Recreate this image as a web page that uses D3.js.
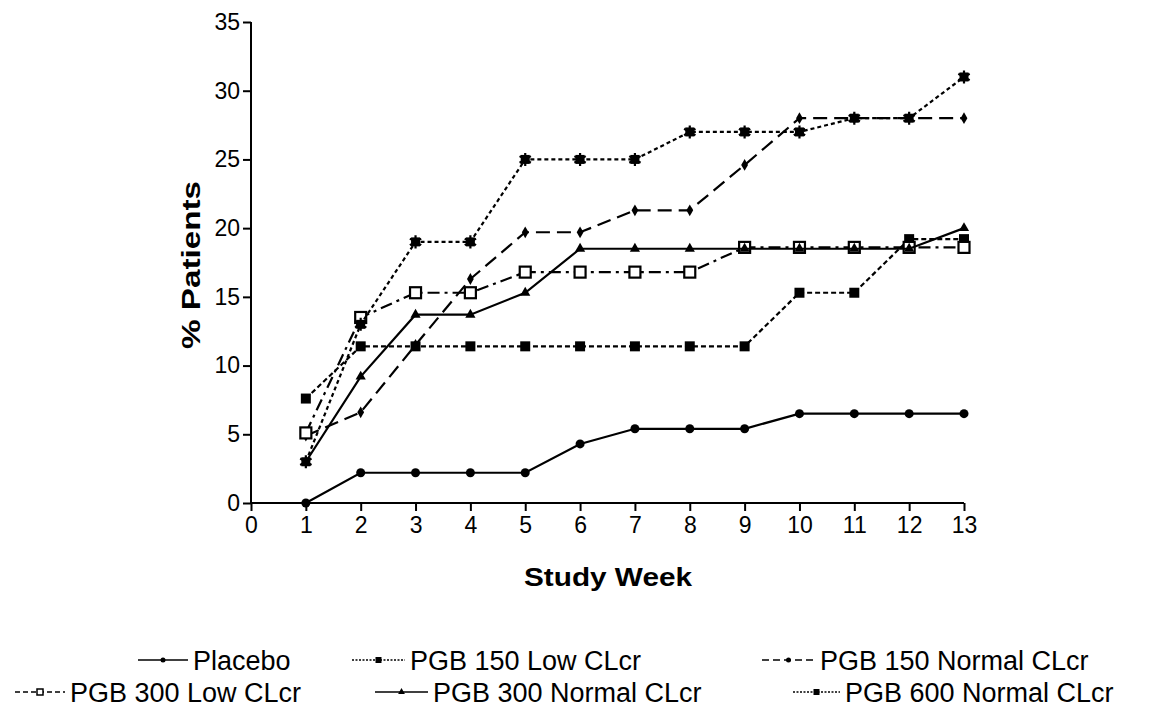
<!DOCTYPE html>
<html>
<head>
<meta charset="utf-8">
<script src="https://cdn.jsdelivr.net/npm/d3@7"></script>
<style>
  html, body { margin: 0; padding: 0; background: #fff; }
  svg { display: block; }
  text { font-family: Arial, "Liberation Sans", Helvetica, sans-serif; fill: #000; }
</style>
</head>
<body>
<svg id="chart" width="1150" height="707"></svg>
<script>
// ---- data ----
const weeks = [1, 2, 3, 4, 5, 6, 7, 8, 9, 10, 11, 12, 13];
const xTicks = [0, 1, 2, 3, 4, 5, 6, 7, 8, 9, 10, 11, 12, 13];
const yTicks = [0, 5, 10, 15, 20, 25, 30, 35];

const placebo      = [0.0, 2.2, 2.2, 2.2, 2.2, 4.3, 5.4, 5.4, 5.4, 6.5, 6.5, 6.5, 6.5];
const pgb150Low    = [7.6, 11.4, 11.4, 11.4, 11.4, 11.4, 11.4, 11.4, 11.4, 15.3, 15.3, 19.2, 19.2];
const pgb150Normal = [4.9, 6.6, 11.5, 16.3, 19.7, 19.7, 21.3, 21.3, 24.6, 28.0, 28.0, 28.0, 28.0];
const pgb300Low    = [5.1, 13.5, 15.3, 15.3, 16.8, 16.8, 16.8, 16.8, 18.6, 18.6, 18.6, 18.6, 18.6];
const pgb300Normal = [3.0, 9.2, 13.7, 13.7, 15.3, 18.5, 18.5, 18.5, 18.5, 18.5, 18.5, 18.5, 20.0];
const pgb600Normal = [3.0, 13.0, 19.0, 19.0, 25.0, 25.0, 25.0, 27.0, 27.0, 27.0, 28.0, 28.0, 31.0];

const seriesNames = ["Placebo", "PGB 150 Low CLcr", "PGB 150 Normal CLcr",
                     "PGB 300 Low CLcr", "PGB 300 Normal CLcr", "PGB 600 Normal CLcr"];
const seriesValues = [placebo, pgb150Low, pgb150Normal, pgb300Low, pgb300Normal, pgb600Normal];

// ---- styles ----
const styles = [
  { dash: null,          legendDash: null,    marker: "circle" },
  { dash: "5,3",         legendDash: "2,1.5", marker: "fsquare" },
  { dash: "14,7",        legendDash: "7,4",   marker: "diamond" },
  { dash: "12,5,3,5",    legendDash: "5,3",   marker: "osquare" },
  { dash: null,          legendDash: null,    marker: "triangle" },
  { dash: "4,3",         legendDash: "2,1.5", marker: "star" }
];
const legendPos = [
  { x1: 138, x2: 188, y: 660 },
  { x1: 352, x2: 405, y: 660 },
  { x1: 762, x2: 815, y: 660 },
  { x1: 15,  x2: 65,  y: 692 },
  { x1: 375, x2: 428, y: 692 },
  { x1: 793, x2: 840, y: 692 }
];

const svg = d3.select("#chart");
const x = d3.scaleLinear().domain([0, 13]).range([251, 964]);
const y = d3.scaleLinear().domain([0, 35]).range([503, 22]);

// axes
const xAxis = d3.axisBottom(x).tickValues(xTicks).tickSize(8).tickPadding(6).tickFormat(d3.format("d"));
const yAxis = d3.axisLeft(y).tickValues(yTicks).tickSize(8).tickPadding(3).tickFormat(d3.format("d"));

const gx = svg.append("g").attr("transform", `translate(0,${y(0)})`).call(xAxis);
const gy = svg.append("g").attr("transform", `translate(${x(0)},0)`).call(yAxis);
[gx, gy].forEach(g => {
  g.select(".domain").attr("stroke", "#000").attr("stroke-width", 2);
  g.selectAll(".tick line").attr("stroke", "#000").attr("stroke-width", 2);
  g.selectAll(".tick text").attr("font-size", 23).attr("fill", "#000")
    .attr("font-family", "Arial, 'Liberation Sans', sans-serif");
});
gx.select(".domain").attr("d", `M${x(0)},0H${x(13)}`);
gy.select(".domain").attr("d", `M0,${y(0)}V${y(35)}`);

// axis titles
svg.append("text").attr("x", 608).attr("y", 586).attr("text-anchor", "middle")
  .attr("font-size", 26).attr("font-weight", "bold").attr("textLength", 168)
  .attr("lengthAdjust", "spacingAndGlyphs").text("Study Week");
svg.append("text").attr("transform", "translate(200,265) rotate(-90)").attr("text-anchor", "middle")
  .attr("font-size", 26).attr("font-weight", "bold").attr("textLength", 168)
  .attr("lengthAdjust", "spacingAndGlyphs").text("% Patients");

// marker drawing
function drawMarker(g, type, cx, cy) {
  if (type === "circle") {
    g.append("circle").attr("cx", cx).attr("cy", cy).attr("r", 4.5).attr("fill", "#000");
  } else if (type === "fsquare") {
    g.append("rect").attr("x", cx - 5).attr("y", cy - 5).attr("width", 10).attr("height", 10).attr("fill", "#000");
  } else if (type === "diamond") {
    g.append("path").attr("transform", `translate(${cx},${cy})`)
      .attr("d", d3.symbol().type(d3.symbolDiamond).size(40)()).attr("fill", "#000");
  } else if (type === "osquare") {
    g.append("rect").attr("x", cx - 5.5).attr("y", cy - 5.5).attr("width", 11).attr("height", 11)
      .attr("fill", "#fff").attr("stroke", "#000").attr("stroke-width", 2.2);
  } else if (type === "triangle") {
    g.append("path").attr("transform", `translate(${cx},${cy})`)
      .attr("d", d3.symbol().type(d3.symbolTriangle).size(45)()).attr("fill", "#000");
  } else if (type === "star") {
    g.append("rect").attr("x", cx - 4.5).attr("y", cy - 4.5).attr("width", 9).attr("height", 9).attr("fill", "#000");
    g.append("path").attr("transform", `translate(${cx},${cy})`)
      .attr("d", d3.symbol().type(d3.symbolAsterisk).size(120)())
      .attr("fill", "none").attr("stroke", "#000").attr("stroke-width", 2.2);
  }
}

// series
const line = d3.line().x((d, i) => x(weeks[i])).y(d => y(d));
seriesValues.forEach((vals, si) => {
  const st = styles[si];
  const g = svg.append("g");
  g.append("path").datum(vals).attr("d", line).attr("fill", "none")
    .attr("stroke", "#000").attr("stroke-width", 2.2)
    .attr("stroke-dasharray", st.dash);
  vals.forEach((v, i) => drawMarker(g, st.marker, x(weeks[i]), y(v)));
});

// legend
seriesNames.forEach((name, si) => {
  const st = styles[si];
  const p = legendPos[si];
  const g = svg.append("g");
  g.append("line").attr("x1", p.x1).attr("x2", p.x2).attr("y1", p.y).attr("y2", p.y)
    .attr("stroke", "#000").attr("stroke-width", 1.6).attr("stroke-dasharray", st.legendDash);
  const cx = (p.x1 + p.x2) / 2;
  if (st.marker === "osquare") {
    g.append("rect").attr("x", cx - 3).attr("y", p.y - 3).attr("width", 6).attr("height", 6)
      .attr("fill", "#fff").attr("stroke", "#000").attr("stroke-width", 1.5);
  } else if (st.marker === "fsquare" || st.marker === "star") {
    g.append("rect").attr("x", cx - 3).attr("y", p.y - 3).attr("width", 6).attr("height", 6).attr("fill", "#000");
  } else if (st.marker === "triangle") {
    g.append("path").attr("transform", `translate(${cx},${p.y})`)
      .attr("d", d3.symbol().type(d3.symbolTriangle).size(20)()).attr("fill", "#000");
  } else {
    g.append("circle").attr("cx", cx).attr("cy", p.y).attr("r", 2.5).attr("fill", "#000");
  }
  g.append("text").attr("x", p.x2 + 5).attr("y", p.y + 9.5).attr("font-size", 27).text(name);
});
</script>
</body>
</html>
